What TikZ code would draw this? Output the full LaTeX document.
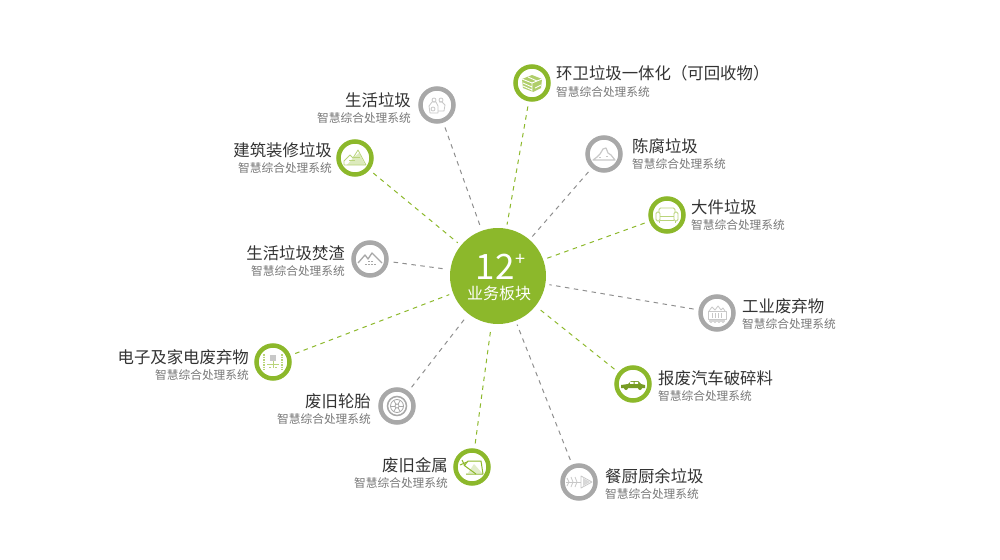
\documentclass[tikz,border=0pt]{standalone}
\usepackage{xcolor}
\usepackage{fontspec}
\setmainfont{Noto Sans CJK SC}
\usetikzlibrary{positioning}
\definecolor{RingGreen}{HTML}{8CB82B}
\definecolor{RingGrey}{HTML}{A8A8A8}
\definecolor{IconGreen}{HTML}{B9D47A}
\definecolor{IconGrey}{HTML}{C8C8C8}
\definecolor{TitleGrey}{HTML}{333333}
\definecolor{SubGrey}{HTML}{777777}

\begin{document}
\begin{tikzpicture}[x=1pt, y=-1pt,
        ringgreen/.style={circle, draw=RingGreen, line width=4.5pt, fill=white, minimum size=33pt, inner sep=0pt},
        ringgrey/.style={circle, draw=RingGrey, line width=4.5pt, fill=white, minimum size=33pt, inner sep=0pt},
        hub/.style={circle, fill=RingGreen, minimum size=96pt, inner sep=0pt},
        title/.style={text=TitleGrey, font=\fontsize{16.4}{18}\selectfont, inner sep=0pt},
        sub/.style={text=SubGrey, font=\fontsize{11.7}{13}\selectfont, inner sep=0pt},
        linkgreen/.style={draw=RingGreen, dash pattern=on 4.5pt off 4.5pt, line width=1pt, shorten >=4pt, shorten <=5pt},
        linkgrey/.style={draw=RingGrey!85!black, dash pattern=on 4.5pt off 4.5pt, line width=1pt, shorten >=4pt, shorten <=5pt},
        icong/.style={draw=IconGreen, line width=0.8pt, line join=round},
        iconk/.style={draw=IconGrey, line width=0.8pt, line join=round}
    ]
    \useasboundingbox (0,0) rectangle (1000,559);

    % hub
    \node[hub] (hub) at (498,276) {};
    \node[text=white, font=\fontsize{35}{38}\selectfont, inner sep=0pt] (num) at (495,267) {12};
    \node[text=white, font=\fontsize{18}{19}\selectfont, inner sep=0pt, right=1pt of num.north east, anchor=north west] (plus) {+};
    \node[text=white, font=\fontsize{16}{18}\selectfont, inner sep=0pt] (biz) at (499,293) {业务板块};

    % rings
    \node[ringgrey] (life) at (437,105) {};
    \node[ringgreen] (san) at (532,83) {};
    \node[ringgreen] (build) at (355,158) {};
    \node[ringgrey] (old) at (604,154) {};
    \node[ringgreen] (bulk) at (667,215) {};
    \node[ringgrey] (slag) at (370,259) {};
    \node[ringgrey] (indu) at (717,313) {};
    \node[ringgreen] (elec) at (273,362) {};
    \node[ringgreen] (car) at (633,384) {};
    \node[ringgrey] (tyre) at (397,406) {};
    \node[ringgreen] (metal) at (472,467) {};
    \node[ringgrey] (food) at (579,482) {};

    % links
    \draw[linkgrey] (life) -- (hub);
    \draw[linkgreen] (san) -- (hub);
    \draw[linkgreen] (build) -- (hub);
    \draw[linkgrey] (old) -- (hub);
    \draw[linkgreen] (bulk) -- (hub);
    \draw[linkgrey] (slag) -- (hub);
    \draw[linkgrey] (indu) -- (hub);
    \draw[linkgreen] (elec) -- (hub);
    \draw[linkgreen] (car) -- (hub);
    \draw[linkgrey] (tyre) -- (hub);
    \draw[linkgreen] (metal) -- (hub);
    \draw[linkgrey] (food) -- (hub);

    % labels on the left
    \node[title, anchor=east] (lifet) at (411,100) {生活垃圾};
    \node[sub, below=5pt of lifet.south east, anchor=north east] (lifes) {智慧综合处理系统};
    \node[title, anchor=east] (buildt) at (332,150) {建筑装修垃圾};
    \node[sub, below=5pt of buildt.south east, anchor=north east] (builds) {智慧综合处理系统};
    \node[title, anchor=east] (slagt) at (345,253) {生活垃圾焚渣};
    \node[sub, below=5pt of slagt.south east, anchor=north east] (slags) {智慧综合处理系统};
    \node[title, anchor=east] (elect) at (249,357) {电子及家电废弃物};
    \node[sub, below=5pt of elect.south east, anchor=north east] (elecs) {智慧综合处理系统};
    \node[title, anchor=east] (tyret) at (371,401) {废旧轮胎};
    \node[sub, below=5pt of tyret.south east, anchor=north east] (tyres) {智慧综合处理系统};
    \node[title, anchor=east] (metalt) at (448,465) {废旧金属};
    \node[sub, below=5pt of metalt.south east, anchor=north east] (metals) {智慧综合处理系统};

    % labels on the right
    \node[title, anchor=west] (sant) at (556,73) {环卫垃圾一体化（可回收物）};
    \node[sub, below=5pt of sant.south west, anchor=north west] (sans) {智慧综合处理系统};
    \node[title, anchor=west] (oldt) at (632,146) {陈腐垃圾};
    \node[sub, below=5pt of oldt.south west, anchor=north west] (olds) {智慧综合处理系统};
    \node[title, anchor=west] (bulkt) at (691,207) {大件垃圾};
    \node[sub, below=5pt of bulkt.south west, anchor=north west] (bulks) {智慧综合处理系统};
    \node[title, anchor=west] (indut) at (742,306) {工业废弃物};
    \node[sub, below=5pt of indut.south west, anchor=north west] (indus) {智慧综合处理系统};
    \node[title, anchor=west] (cart) at (658,378) {报废汽车破碎料};
    \node[sub, below=5pt of cart.south west, anchor=north west] (cars) {智慧综合处理系统};
    \node[title, anchor=west] (foodt) at (605,476) {餐厨厨余垃圾};
    \node[sub, below=5pt of foodt.south west, anchor=north west] (foods) {智慧综合处理系统};

    % icons
    \begin{scope}[shift={(life.center)}]
        \draw[iconk] (-7,8) -- (-8,1) -- (-5,-3) -- (-1,-3) -- (1,1) -- (1,8) -- cycle;
        \draw[iconk] (1,6) -- (7,6) -- (8,0) -- (5,-3) -- (2,-3);
        \draw[iconk] (-3,-5) circle (2pt) (4,-5) circle (2pt);
        \draw[iconk] (-4,4) circle (2pt);
    \end{scope}
    \begin{scope}[shift={(san.center)}]
        \fill[IconGreen!80!RingGreen] (-10,-4) -- (0,-8) -- (10,-4) -- (9,5) -- (1,9) -- (-9,5) -- cycle;
        \draw[white, line width=0.9pt] (-10,-4) -- (0,0) -- (10,-4) (0,0) -- (0,9) (-9,0) -- (0,4) (-9,3) -- (0,7) (3,5) -- (9,2) (-4,-6) -- (5,-2);
    \end{scope}
    \begin{scope}[shift={(build.center)}]
        \fill[IconGreen!50] (-8,7) -- (-2,0) -- (4,-5) -- (10,7) -- cycle;
        \draw[icong] (-11,3) -- (-5,-3) -- (-2,0) -- (3,-8) -- (11,7) -- (-11,7) -- cycle;
        \draw[icong] (-1,-1) -- (5,-1) (-6,2) -- (0,2);
    \end{scope}
    \begin{scope}[shift={(old.center)}]
        \draw[iconk, line width=1.2pt] (-11,6) -- (-7,3) -- (-4,0) -- (-1,-5) -- (2,-6) -- (4,-1) -- (7,1) -- (11,6) -- cycle;
        \draw[iconk] (-5,3) -- (-3,3) (2,2) -- (4,2);
    \end{scope}
    \begin{scope}[shift={(bulk.center)}]
        \draw[icong, rounded corners=1.5pt] (-11,-3) rectangle (-7,6);
        \draw[icong, rounded corners=1.5pt] (7,-3) rectangle (11,6);
        \draw[icong, rounded corners=1.5pt] (-8,-3) -- (-8,-7) -- (8,-7) -- (8,-3);
        \draw[icong] (-7,1) -- (7,1) (-7,5) -- (7,5) (-8,6) -- (-8,8) (8,6) -- (8,8);
    \end{scope}
    \begin{scope}[shift={(slag.center)}]
        \draw[iconk, draw=RingGrey, line width=1.3pt] (-12,4) -- (-5,-4) -- (-2,0) -- (2,-6) -- (12,4);
        \draw[iconk, draw=RingGrey, line width=1pt, dash pattern=on 1.5pt off 1.5pt] (-5,5) -- (7,5);
        \draw[iconk, draw=RingGrey, line width=1pt, dash pattern=on 1.5pt off 1.5pt] (-2,2) -- (4,2);
    \end{scope}
    \begin{scope}[shift={(indu.center)}]
        \draw[iconk] (-9,-2) rectangle (9,6);
        \draw[iconk] (-8,-2) -- (-5,-6) -- (-2,-3) -- (1,-7) -- (4,-3) -- (6,-5) -- (8,-2);
        \draw[iconk] (-5,0) -- (-5,5) (-2,0) -- (-2,5) (1,0) -- (1,5) (4,0) -- (4,5);
        \draw[iconk] (-6,8) circle (1.5pt) (-2,8) circle (1.5pt) (2,8) circle (1.5pt) (6,8) circle (1.5pt);
    \end{scope}
    \begin{scope}[shift={(elec.center)}]
        \fill[IconGrey] (-3,-7) rectangle (3,-1);
        \draw[icong, dash pattern=on 1.5pt off 1pt, line width=1.5pt] (-9,-8) -- (-9,8) (9,-8) -- (9,8);
        \draw[icong] (0,-1) -- (0,6) (-6,2) -- (6,2) (-4,5) -- (-2,5) (2,5) -- (4,5);
    \end{scope}
    \begin{scope}[shift={(car.center)}]
        \fill[RingGreen!85!black] (-12,4) -- (-12,1) -- (-5,0) -- (-2,-3) -- (5,-3) -- (8,0) -- (12,1) -- (12,4) -- cycle;
        \fill[white] (-3,-2.2) rectangle (0.5,-0.2) (1.5,-2.2) rectangle (5,-0.2);
        \fill[RingGreen!85!black] (-7,4) circle (2pt) (7,4) circle (2pt);
    \end{scope}
    \begin{scope}[shift={(tyre.center)}]
        \draw[draw=RingGrey, line width=1.5pt] (0,0) circle (9.5pt);
        \draw[draw=RingGrey, line width=0.8pt] (0,0) circle (6.5pt) (0,0) circle (2pt);
        \foreach \a in {0,60,...,300} \draw[draw=RingGrey, line width=0.8pt] (\a:2) -- (\a:6.5);
    \end{scope}
    \begin{scope}[shift={(metal.center)}]
        \fill[RingGreen!25] (-4,6) -- (2,-3) -- (10,6) -- cycle;
        \draw[draw=RingGreen, line width=1pt, line join=round] (-8,-1) -- (-4,-6) -- (9,-6) -- (11,7) -- (-6,7);
        \draw[draw=RingGreen, line width=1pt] (-10,-7) -- (-7,-1) -- (4,7);
        \draw[draw=RingGreen, line width=1pt] (-12,-2) -- (-5,-5);
    \end{scope}
    \begin{scope}[shift={(food.center)}]
        \draw[iconk] (2,-6) -- (13,0) -- (2,6) -- cycle;
        \fill[IconGrey!70] (4,-4) -- (11,0) -- (4,4) -- cycle;
        \draw[iconk] (-13,0) -- (2,0);
        \draw[iconk] (-12,-4) -- (-10,0) -- (-12,4) (-8,-5) -- (-6,0) -- (-8,5) (-4,-5) -- (-2,0) -- (-4,5);
    \end{scope}
\end{tikzpicture}
\end{document}
